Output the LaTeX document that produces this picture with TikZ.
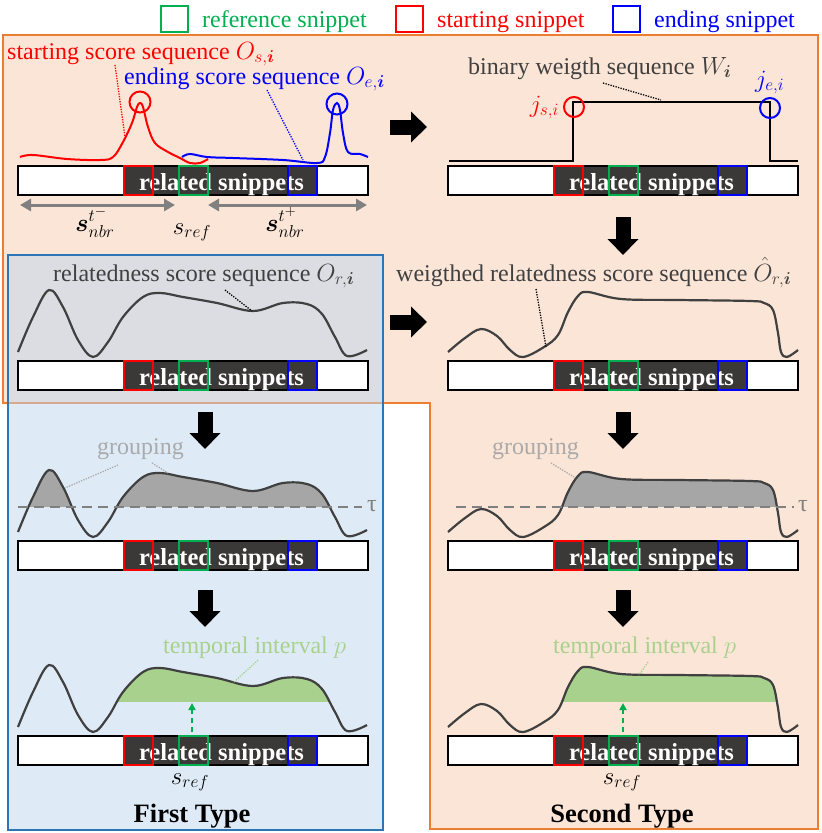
\documentclass[tikz,border=0pt]{standalone}
\usepackage{amsmath}
\usepackage{fontspec}
\setmainfont{Liberation Serif}
\usetikzlibrary{arrows.meta}
\definecolor{peach}{HTML}{FBE5D6}
\definecolor{orbord}{HTML}{ED7D31}
\definecolor{bluefill}{HTML}{BDD7EF}
\definecolor{blbord}{HTML}{2E75B6}
\definecolor{dkbar}{HTML}{3B3838}
\definecolor{sgreen}{HTML}{00B050}
\definecolor{curvec}{HTML}{404040}
\definecolor{lgreen}{HTML}{A9D18E}
\definecolor{grptext}{HTML}{AAAAAA}
\definecolor{grpfill}{HTML}{A6A6A6}
\definecolor{arrgray}{HTML}{808080}
\newcommand\barfont{\fontsize{24.5}{28}\selectfont\bfseries}
\newcommand\lblfont{\fontsize{24}{28}\selectfont}
\newcommand\ttlfont{\fontsize{26.5}{30}\selectfont\bfseries}
\newcommand\mth[1]{{\fontsize{26.5}{30}\selectfont$#1$}}
\newcommand\relcurve{plot[smooth,tension=0.6] coordinates {(18,352) (33,317) (49,290) (63,307) (78,340) (93,357) (108,342) (123,317) (143,297) (160,293) (183,297) (217,303) (253,311) (283,303) (307,304) (322,314) (335,337) (347,356) (367,350)}}
\newcommand\wcurve{plot[smooth,tension=0.6] coordinates {(448,352) (465,338) (481,329) (497,336) (510,350) (523,357) (544,347) (558,335) (568,312) (578,296) (588,292) (621,299) (678,300) (750,301) (764,303) (773,310) (778,333) (781,352) (787,357) (798,350)}}
\tikzset{
  snipbar/.pic={
    \fill[white] (0,0) rectangle (350,29);
    \fill[dkbar] (106,0) rectangle (299,29);
    \draw[line width=2pt] (0,0) rectangle (350,29);
    \node[text=white, font=\barfont, inner sep=0, anchor=base] (-txt) at (203.5,24) {related snippets};
    \draw[red, line width=2pt] (106,0) rectangle (135,29);
    \draw[sgreen, line width=2pt] (161,0) rectangle (190,29);
    \draw[blue, line width=2pt] (270,0) rectangle (299,29);
  },
  lbl/.style={font=\lblfont, inner sep=0, anchor=base west},
  curveline/.style={curvec, line width=2.2pt},
  leader/.style={line width=1.3pt, dash pattern=on 1.3pt off 1.3pt},
  blockarr/.style={line width=15pt, -{Triangle[length=16pt,width=30pt]}, black},
  dblarr/.style={arrgray, line width=3pt, {Triangle[length=11pt,width=12pt]}-{Triangle[length=11pt,width=12pt]}},
  thresh/.style={arrgray, line width=2.5pt, dash pattern=on 10pt off 6pt},
  legbox/.style={line width=2pt},
  grnarr/.style={sgreen, line width=2pt, dash pattern=on 5pt off 4pt, -{Triangle[length=7pt,width=7pt]}},
}
\begin{document}
\begin{tikzpicture}[x=1pt,y=-1pt]
\useasboundingbox (0,0) rectangle (822,833);
% backgrounds
\fill[peach] (3,35) -- (818,35) -- (818,829) -- (430,829) -- (430,403) -- (3,403) -- cycle;
\draw[orbord, line width=2pt] (3,35) -- (818,35) -- (818,829) -- (430,829) -- (430,403) -- (3,403) -- cycle;
\fill[bluefill, fill opacity=0.5] (8,255) rectangle (383,830);
\draw[blbord, line width=2pt] (8,255) rectangle (383,830);

% legend
\draw[sgreen, legbox] (161,6) rectangle (188,32);
\node[lbl, text=sgreen] (lg1) at (202,27) {reference snippet};
\draw[red, legbox] (396,6) rectangle (423,32);
\node[lbl, text=red] (lg2) at (437,27) {starting snippet};
\draw[blue, legbox] (613,6) rectangle (640,32);
\node[lbl, text=blue] (lg3) at (654,27) {ending snippet};

% ---------- top left ----------
\node[lbl, text=red] (lstart) at (7,59) {starting score sequence \mth{O_{s,\boldsymbol{i}}}};
\node[lbl, text=blue] (lend) at (124,84) {ending score sequence \mth{O_{e,\boldsymbol{i}}}};
\draw[red, line width=2pt] plot[smooth,tension=0.6] coordinates {(20,157) (33,155) (67,159) (100,160) (113,157) (123,142) (132,123) (137,107) (140,103) (143,107) (148,127) (155,143) (168,152) (180,158) (190,163) (200,163) (208,159)};
\draw[blue, line width=2pt] plot[smooth,tension=0.6] coordinates {(182,157) (190,154) (207,157) (233,158) (283,160) (317,163) (325,157) (330,133) (333,110) (337,103) (340,110) (343,133) (348,152) (360,154) (368,157)};
\node[draw=red, line width=2pt, circle, minimum size=21pt, inner sep=0] (cs) at (140,102) {};
\node[draw=blue, line width=2pt, circle, minimum size=21pt, inner sep=0] (ce) at (337,104) {};
\coordinate (ls1) at (115,65); \coordinate (ls2) at (125,137);
\draw[leader, red] (ls1) -- (ls2);
\coordinate (le1) at (267,90); \coordinate (le2) at (303,160);
\draw[leader, blue] (le1) -- (le2);
\pic (b1) at (18,166) {snipbar};
\coordinate (da1) at (20,205); \coordinate (da2) at (175,205);
\coordinate (da3) at (208,205); \coordinate (da4) at (367,205);
\draw[dblarr] (da1) -- (da2);
\draw[dblarr] (da3) -- (da4);
\node[inner sep=0, anchor=base] (snm) at (95,231) {\mth{\boldsymbol{s}_{nbr}^{t^-}}};
\node[inner sep=0, anchor=base] (sref1) at (192,234) {\mth{s_{ref}}};
\node[inner sep=0, anchor=base] (snp) at (285,231) {\mth{\boldsymbol{s}_{nbr}^{t^+}}};

% ---------- top right ----------
\node[lbl, text=curvec] (lbin) at (468,74) {binary weigth sequence \mth{W_{\boldsymbol{i}}}};
\draw[black, line width=2.5pt] (449,161) -- (573,161) -- (573,102) -- (770,102) -- (770,161) -- (798,161);
\node[draw=red, line width=2pt, circle, minimum size=20pt, inner sep=0] (cjs) at (574,107) {};
\node[draw=blue, line width=2pt, circle, minimum size=20pt, inner sep=0] (cje) at (770,108) {};
\node[text=red, inner sep=0, anchor=base east] (js) at (559,112) {\mth{j_{s,i}}};
\node[text=blue, inner sep=0, anchor=base west] (je) at (755,87) {\mth{j_{e,i}}};
\coordinate (lb1) at (603,83); \coordinate (lb2) at (661,100);
\draw[leader, black] (lb1) -- (lb2);
\pic (b2) at (448,166) {snipbar};

% ---------- row 2 ----------
\node[lbl, text=curvec] (lrel) at (53,281) {relatedness score sequence \mth{O_{r,\boldsymbol{i}}}};
\draw[curveline] \relcurve;
\coordinate (lr1) at (225,290); \coordinate (lr2) at (252,311);
\draw[leader, black] (lr1) -- (lr2);
\pic (b3) at (18,361) {snipbar};

\node[lbl, text=curvec] (lwr) at (396,281) {weigthed relatedness score sequence \mth{\hat{O}_{r,\boldsymbol{i}}}};
\draw[curveline] \wcurve;
\coordinate (lw1) at (536,289); \coordinate (lw2) at (546,347);
\draw[leader, black] (lw1) -- (lw2);
\pic (b4) at (448,361) {snipbar};

% ---------- row 3 ----------
\begin{scope}[shift={(0,180)}]
  \begin{scope}
    \clip (0,250) rectangle (400,326.5);
    \fill[grpfill] \relcurve -- (367,327) -- (18,327) -- cycle;
  \end{scope}
  \draw[curveline] \relcurve;
  \coordinate (th1) at (18,327); \coordinate (th2) at (362,327);
  \draw[thresh] (th1) -- (th2);
  \node[font=\lblfont, text=arrgray, inner sep=0] (tau1) at (372,326) {τ};
  \begin{scope}
    \clip (540,250) rectangle (800,326.5);
    \fill[grpfill] \wcurve -- (798,327) -- (448,327) -- cycle;
  \end{scope}
  \draw[curveline] \wcurve;
  \coordinate (th3) at (456,327); \coordinate (th4) at (794,327);
  \draw[thresh] (th3) -- (th4);
  \node[font=\lblfont, text=arrgray, inner sep=0] (tau2) at (803,326) {τ};
\end{scope}
\node[lbl, text=grptext] (lg1a) at (97,454) {grouping};
\coordinate (lga1) at (118,465); \coordinate (lga2) at (65,488);
\draw[leader, grptext] (lga1) -- (lga2);
\coordinate (lga3) at (152,463); \coordinate (lga4) at (168,473);
\draw[leader, grptext] (lga3) -- (lga4);
\node[lbl, text=grptext] (lg2a) at (492,454) {grouping};
\coordinate (lgb1) at (551,463); \coordinate (lgb2) at (574,477);
\draw[leader, grptext] (lgb1) -- (lgb2);
\pic (b5) at (18,541) {snipbar};
\pic (b6) at (448,541) {snipbar};

% ---------- row 4 ----------
\begin{scope}[shift={(0,375)}]
  \begin{scope}
    \clip (110,250) rectangle (340,326.6);
    \fill[lgreen] \relcurve -- (367,327) -- (18,327) -- cycle;
  \end{scope}
  \draw[curveline] \relcurve;
  \begin{scope}
    \clip (555,250) rectangle (790,326.6);
    \fill[lgreen] \wcurve -- (798,327) -- (448,327) -- cycle;
  \end{scope}
  \draw[curveline] \wcurve;
\end{scope}
\node[lbl, text=lgreen] (ltp1) at (163,653) {temporal interval \mth{p}};
\coordinate (lt1) at (258,660); \coordinate (lt2) at (233,683);
\draw[leader, lgreen] (lt1) -- (lt2);
\node[lbl, text=lgreen] (ltp2) at (553,653) {temporal interval \mth{p}};
\coordinate (lt3) at (648,662); \coordinate (lt4) at (639,675);
\draw[leader, lgreen] (lt3) -- (lt4);
\pic (b7) at (18,736) {snipbar};
\pic (b8) at (448,736) {snipbar};
\coordinate (ga1) at (192,732); \coordinate (ga2) at (192,703);
\draw[grnarr] (ga1) -- (ga2);
\coordinate (ga3) at (623,732); \coordinate (ga4) at (623,703);
\draw[grnarr] (ga3) -- (ga4);
\node[inner sep=0, anchor=base] (sref2) at (190,784) {\mth{s_{ref}}};
\node[inner sep=0, anchor=base] (sref3) at (622,784) {\mth{s_{ref}}};
\node[font=\ttlfont, inner sep=0, anchor=base] (t1) at (192,822) {First Type};
\node[font=\ttlfont, inner sep=0, anchor=base] (t2) at (622,822) {Second Type};

% ---------- block arrows ----------
\coordinate (ra1) at (390,127); \coordinate (ra2) at (427,127);
\draw[blockarr] (ra1) -- (ra2);
\coordinate (ra3) at (390,322); \coordinate (ra4) at (427,322);
\draw[blockarr] (ra3) -- (ra4);
\coordinate (da5) at (623,217); \coordinate (da6) at (623,255);
\draw[blockarr] (da5) -- (da6);
\coordinate (da7) at (205,412); \coordinate (da8) at (205,449);
\draw[blockarr] (da7) -- (da8);
\coordinate (da9) at (623,412); \coordinate (da10) at (623,449);
\draw[blockarr] (da9) -- (da10);
\coordinate (da11) at (205,590); \coordinate (da12) at (205,627);
\draw[blockarr] (da11) -- (da12);
\coordinate (da13) at (623,590); \coordinate (da14) at (623,627);
\draw[blockarr] (da13) -- (da14);
\end{tikzpicture}
\end{document}
